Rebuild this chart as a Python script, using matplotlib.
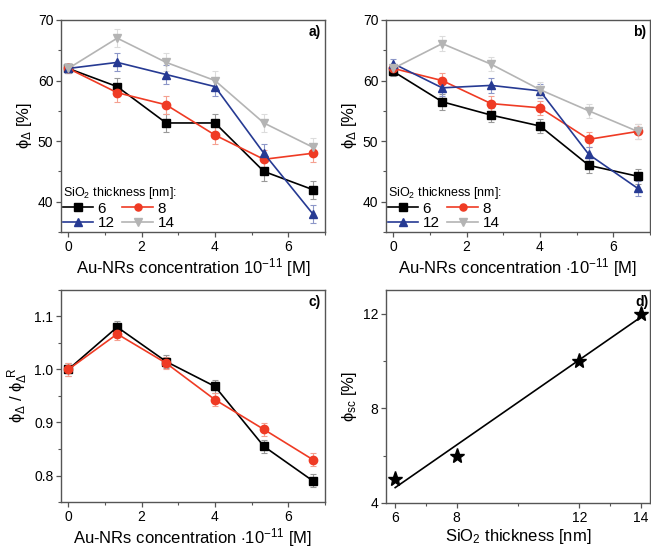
import matplotlib.pyplot as plt
from matplotlib.ticker import MultipleLocator, FixedLocator
import numpy as np

plt.rcParams['font.family'] = ['Liberation Sans', 'DejaVu Sans']
plt.rcParams['mathtext.fontset'] = 'custom'
plt.rcParams['mathtext.rm'] = 'Liberation Sans'
plt.rcParams['mathtext.it'] = 'Liberation Sans'

# concentration (x 1e-11 M)
conc = [0, 1.333, 2.667, 4.0, 5.333, 6.667]
thickness_labels = ['6', '8', '12', '14']

# panel a
a_6 = [62, 59, 53, 53, 45, 42]
a_8 = [62, 58, 56, 51, 47, 48]
a_12 = [62, 63, 61, 59, 48, 38]
a_14 = [62, 67, 63, 60, 53, 49]
a_err = [0.8, 1.5, 1.5, 1.5, 1.5, 1.5]

# panel b
b_6 = [61.5, 56.5, 54.3, 52.5, 46.0, 44.2]
b_8 = [62.0, 60.0, 56.2, 55.5, 50.3, 51.6]
b_12 = [62.8, 58.8, 59.2, 58.3, 47.8, 42.2]
b_14 = [62.0, 66.1, 62.7, 58.5, 55.0, 51.6]
b_err = [0.8, 1.3, 1.2, 1.2, 1.2, 1.2]

# panel c
c_6 = [1.0, 1.08, 1.015, 0.968, 0.855, 0.79]
c_8 = [1.0, 1.067, 1.012, 0.943, 0.887, 0.83]
c_err = [0.012, 0.012, 0.012, 0.012, 0.012, 0.012]

# panel d
d_thick = [6, 8, 12, 14]
d_phi = [5, 6, 10, 12]

colors = ['black', '#ef3b24', '#263a93', '#b4b4b4']
err_colors = ['#999999', '#f5a090', '#8c96c8', '#dcdcdc']
markers = ['s', 'o', '^', 'v']
spine_col = '#555555'

TICK_FS = 10
LABEL_FS = 12


def style_axes(ax):
    for s in ax.spines.values():
        s.set_color(spine_col)
        s.set_linewidth(1.0)
    ax.tick_params(which='major', direction='out', length=3.5, width=0.9,
                   color=spine_col, labelsize=TICK_FS, pad=2)
    ax.tick_params(which='minor', direction='out', length=2, width=0.8,
                   color=spine_col)


def conc_panel(ax, series, err, label, xlabel):
    lines = []
    for ys, c, ec, m, lab in zip(series, colors, err_colors, markers, thickness_labels):
        ax.errorbar(conc, ys, yerr=err, fmt='none', ecolor=ec, elinewidth=0.8,
                    capsize=2, capthick=0.8, zorder=1)
        ln, = ax.plot(conc, ys, color=c, marker=m, markersize=6, linewidth=1.2,
                      label=lab, zorder=2)
        lines.append(ln)
    ax.set_xlim(-0.2, 7.0)
    ax.set_ylim(35, 70)
    ax.xaxis.set_major_locator(MultipleLocator(2))
    ax.xaxis.set_minor_locator(MultipleLocator(1))
    ax.yaxis.set_major_locator(MultipleLocator(10))
    ax.yaxis.set_minor_locator(MultipleLocator(5))
    ax.set_ylabel(r'$\phi_\Delta$ [%]', fontsize=LABEL_FS, labelpad=3)
    ax.set_xlabel(xlabel, fontsize=LABEL_FS, labelpad=2)
    ax.text(0.985, 0.975, label, transform=ax.transAxes, ha='right', va='top',
            fontsize=10, fontweight='bold')
    # row order: 6, 8 / 12, 14
    order = [0, 2, 1, 3]
    leg = ax.legend([lines[i] for i in order], [thickness_labels[i] for i in order],
                    ncol=2, loc='lower left', frameon=False, fontsize=11,
                    title=r'SiO$_2$ thickness [nm]:', title_fontsize=9,
                    handlelength=2.0, handletextpad=0.3, columnspacing=0.5,
                    labelspacing=0.05, borderaxespad=0.0, borderpad=0.1,
                    markerscale=0.85)
    leg._legend_box.align = 'left'
    style_axes(ax)


fig = plt.figure(figsize=(6.51, 5.49), dpi=100)
ax_a = fig.add_axes([0.0937, 0.5774, 0.4055, 0.3862])
ax_b = fig.add_axes([0.5929, 0.5774, 0.4055, 0.3862])
ax_c = fig.add_axes([0.0937, 0.0856, 0.4055, 0.3862])
ax_d = fig.add_axes([0.5929, 0.0838, 0.4055, 0.3880])

conc_panel(ax_a, [a_6, a_8, a_12, a_14], a_err, 'a)',
           r'Au-NRs concentration 10$^{-11}$ [M]')
conc_panel(ax_b, [b_6, b_8, b_12, b_14], b_err, 'b)',
           r'Au-NRs concentration $\cdot$10$^{-11}$ [M]')

# panel c
for ys, c, ec, m in zip([c_6, c_8], colors[:2], err_colors[:2], markers[:2]):
    ax_c.errorbar(conc, ys, yerr=c_err, fmt='none', ecolor=ec, elinewidth=0.8,
                  capsize=2, capthick=0.8, zorder=1)
    ax_c.plot(conc, ys, color=c, marker=m, markersize=6, linewidth=1.2, zorder=2)
ax_c.set_xlim(-0.2, 7.0)
ax_c.set_ylim(0.75, 1.15)
ax_c.xaxis.set_major_locator(MultipleLocator(2))
ax_c.xaxis.set_minor_locator(MultipleLocator(1))
ax_c.yaxis.set_major_locator(MultipleLocator(0.1))
ax_c.yaxis.set_minor_locator(MultipleLocator(0.05))
ax_c.yaxis.set_major_formatter(plt.FormatStrFormatter('%.1f'))
ax_c.set_ylabel(r'$\phi_\Delta$ / $\phi_\Delta^{\ R}$', fontsize=LABEL_FS, labelpad=3)
ax_c.set_xlabel(r'Au-NRs concentration $\cdot$10$^{-11}$ [M]', fontsize=LABEL_FS, labelpad=2)
ax_c.text(0.985, 0.975, 'c)', transform=ax_c.transAxes, ha='right', va='top',
          fontsize=10, fontweight='bold')
style_axes(ax_c)

# panel d
ax_d.plot(d_thick, d_phi, linestyle='none', marker='*', markersize=11,
          color='black', zorder=3)
slope, icpt = np.polyfit(d_thick, d_phi, 1)
xf = np.array([min(d_thick), max(d_thick)])
ax_d.plot(xf, slope * xf + icpt, color='black', linewidth=1.2)
ax_d.set_xlim(5.7, 14.3)
ax_d.set_ylim(4, 13)
ax_d.xaxis.set_major_locator(FixedLocator([6, 8, 12, 14]))
ax_d.xaxis.set_minor_locator(FixedLocator([7, 10, 13]))
ax_d.yaxis.set_major_locator(FixedLocator([4, 8, 12]))
ax_d.yaxis.set_minor_locator(FixedLocator([6, 10]))
ax_d.set_ylabel(r'$\phi_{sc}$ [%]', fontsize=LABEL_FS, labelpad=3)
ax_d.set_xlabel(r'SiO$_2$ thickness [nm]', fontsize=LABEL_FS, labelpad=2)
ax_d.text(0.995, 0.975, 'd)', transform=ax_d.transAxes, ha='right', va='top',
          fontsize=10, fontweight='bold')
style_axes(ax_d)

fig.savefig('out.png', dpi=100)
